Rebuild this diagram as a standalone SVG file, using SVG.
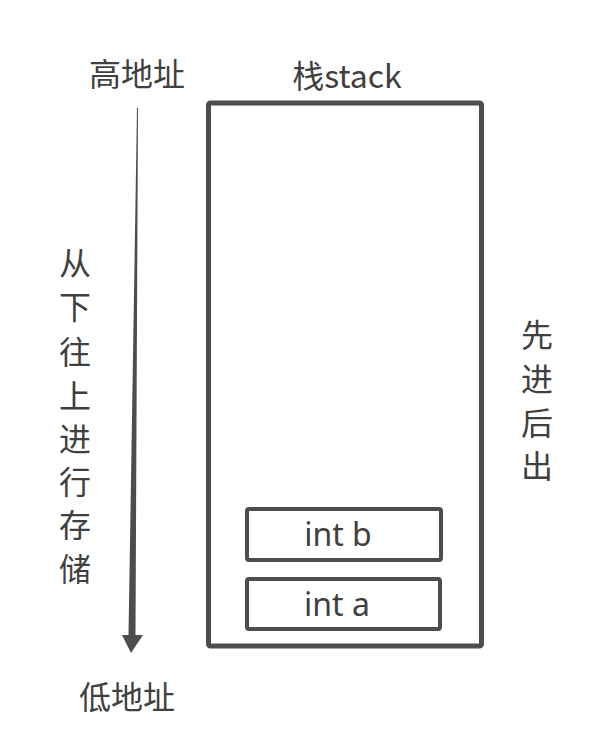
<svg xmlns="http://www.w3.org/2000/svg" width="612" height="744" viewBox="0 0 612 744">
<style>
text{font-family:"Noto Sans CJK SC","Noto Sans",sans-serif;fill:#404040;font-size:32px;text-anchor:middle}
.lat{font-family:"Noto Sans","Noto Sans CJK SC",sans-serif;font-size:32px}
.box{fill:none;stroke:#4d4d4d;stroke-width:4;stroke-linejoin:round}
.stack{fill:none;stroke:#4d4d4d;stroke-width:5;stroke-linejoin:round}
</style>
<rect width="612" height="744" fill="#ffffff"/>
<g id="connectors">
<polygon points="137,108 138,108 135.5,635 143,635 131,653 122,635 128.5,635" fill="#4d4d4d"/>
</g>
<g id="label-high"><text x="137" y="86">高地址</text></g>
<g id="label-low"><text x="127" y="709">低地址</text></g>
<g id="stack"><rect class="stack" x="208.5" y="103" width="273" height="543" rx="2"/><text x="347" y="88">栈stack</text></g>
<g id="int-b"><rect class="box" x="247" y="509" width="194" height="51" rx="2"/><text class="lat" x="338" y="546">int b</text></g>
<g id="int-a"><rect class="box" x="247" y="579" width="193" height="50" rx="2"/><text class="lat" x="337" y="616">int a</text></g>
<g id="label-store">
<text x="75" y="275">从</text>
<text x="75" y="319">下</text>
<text x="75" y="364">往</text>
<text x="75" y="408">上</text>
<text x="75" y="451">进</text>
<text x="75" y="494">行</text>
<text x="75" y="537">存</text>
<text x="75" y="581">储</text>
</g>
<g id="label-lifo">
<text x="537" y="347">先</text>
<text x="537" y="391">进</text>
<text x="537" y="435">后</text>
<text x="537" y="478">出</text>
</g>
</svg>
